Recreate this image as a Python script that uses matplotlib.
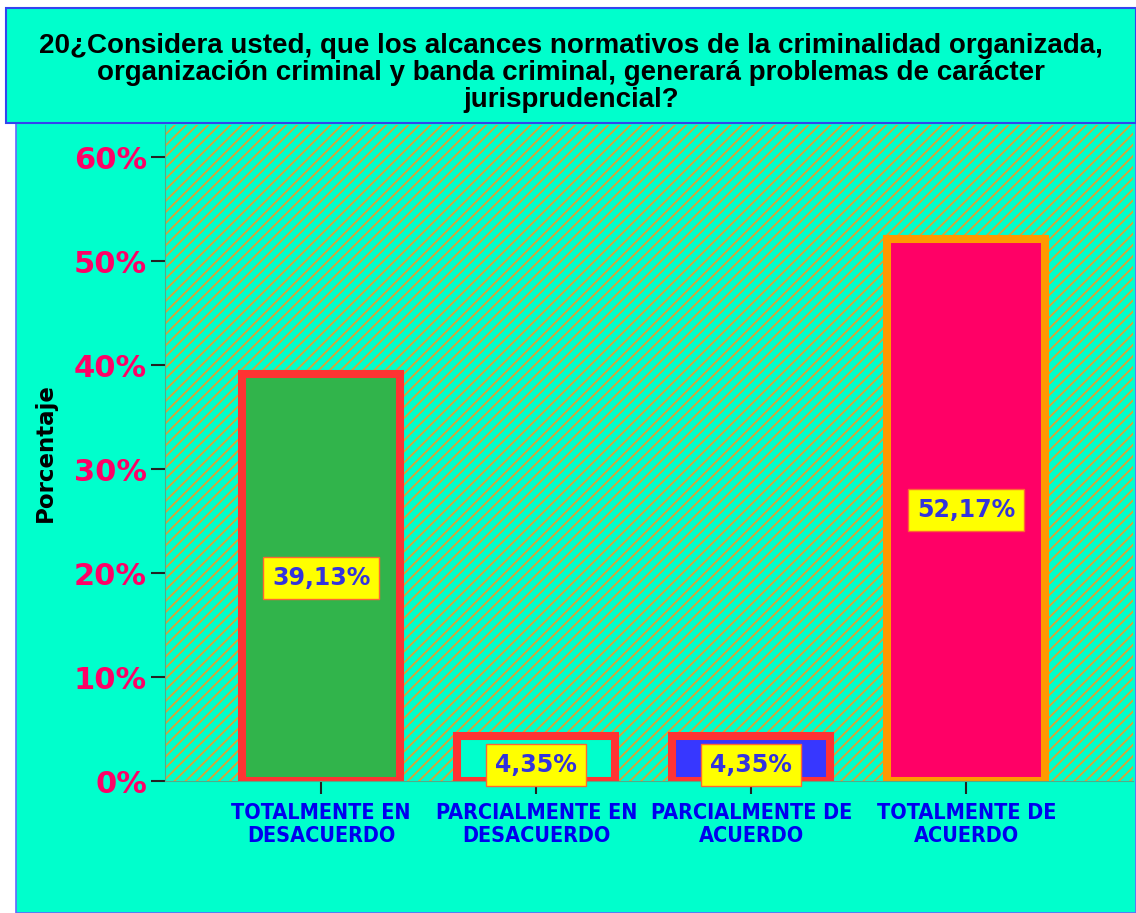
import matplotlib
matplotlib.use('Agg')
import matplotlib.pyplot as plt
from matplotlib.patches import Rectangle

# Data
categories = ['TOTALMENTE EN\nDESACUERDO', 'PARCIALMENTE EN\nDESACUERDO',
              'PARCIALMENTE DE\nACUERDO', 'TOTALMENTE DE\nACUERDO']
percentages = [39.13, 4.35, 4.35, 52.17]
value_labels = ['39,13%', '4,35%', '4,35%', '52,17%']
y_ticks = [0, 10, 20, 30, 40, 50, 60]
y_tick_labels = ['0%', '10%', '20%', '30%', '40%', '50%', '60%']

title = ('20¿Considera usted, que los alcances normativos de la criminalidad organizada,\n'
         'organización criminal y banda criminal, generará problemas de carácter\n'
         'jurisprudencial?')

bar_colors = ['#31B44B', '#00FFCC', '#3737FF', '#FF0066']
edge_colors = ['#FF3333', '#FF3333', '#FF3333', '#FF9900']
cyan = '#00FFCC'

plt.rcParams['hatch.linewidth'] = 1.3

fig = plt.figure(figsize=(11.36, 9.13), dpi=100)
fig.patch.set_facecolor('white')

# Outer cyan panel and title box (figure coordinates), drawn beneath the axes
W, H = 1136, 913
fig.patches.append(Rectangle((16 / W, 0), 1 - 16 / W, 1 - 123 / H, transform=fig.transFigure,
                             facecolor=cyan, edgecolor='#6666FF', linewidth=1.2, zorder=-2))
fig.patches.append(Rectangle((6 / W, 1 - 123 / H), 1 - 6 / W, (123 - 8) / H, transform=fig.transFigure,
                             facecolor=cyan, edgecolor='#3344EE', linewidth=1.5, zorder=-1))
fig.text(0.5 + 3 / W, 1 - 73 / H, title, ha='center', va='center', fontsize=20,
         fontweight='bold', family='Liberation Sans', linespacing=1.05, color='black')

ax = fig.add_axes([165 / W, 1 - 781 / H, 1 - 168 / W, (781 - 125) / H])
ax.set_facecolor(cyan)
# diagonal orange hatching over the plot area
ax.add_patch(Rectangle((0, 0), 1, 1, transform=ax.transAxes, facecolor=cyan,
                       edgecolor='#D8A438', hatch='///', linewidth=0, zorder=0))

x = list(range(len(categories)))
ax.bar(x, percentages, width=0.735, color=bar_colors, edgecolor=edge_colors,
       linewidth=5.8, zorder=2)

for xi, v, lab in zip(x, percentages, value_labels):
    yc = v / 2 if v > 10 else 1.55
    ax.text(xi, yc, lab, ha='center', va='center', fontsize=17, fontweight='heavy',
            color='#3333DD', zorder=4,
            bbox=dict(boxstyle='square,pad=0.38', facecolor='#FFFF00', edgecolor='#FF6633', linewidth=1))

ax.set_xlim(-0.726, 3.775)
ax.set_ylim(0, 63.1)
ax.set_yticks(y_ticks)
ax.set_yticklabels(y_tick_labels, fontsize=22, fontweight='bold', color='#FF0066')
ax.set_xticks(x)
ax.set_xticklabels(categories, fontsize=15.5, fontweight='bold', color='#0000EE',
                   family='DejaVu Sans', fontstretch='condensed', linespacing=1.2)
ax.tick_params(axis='y', length=10, width=1.5, color='#222222', pad=3)
ax.tick_params(axis='x', length=9, width=1.5, color='#222222', pad=7)

for s in ['top', 'right']:
    ax.spines[s].set_visible(False)
ax.spines['left'].set_color('#55AA88')
ax.spines['bottom'].set_color('#55AA88')

fig.text(45 / W, 1 - 453 / H, 'Porcentaje', rotation=90, ha='center', va='center',
         fontsize=16.5, fontweight='bold', color='black')

fig.savefig('out.png', dpi=100, facecolor=fig.get_facecolor())
